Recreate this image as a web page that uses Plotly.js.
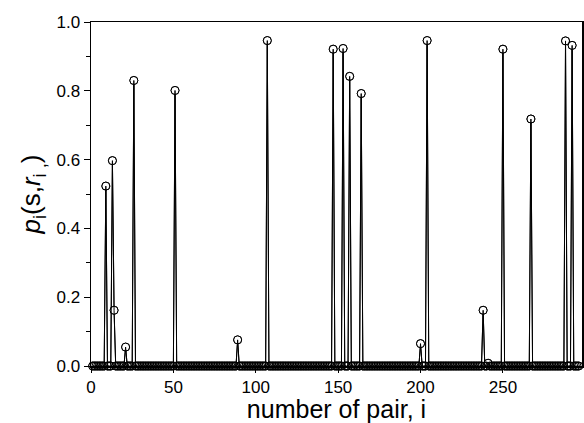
<!DOCTYPE html>
<html>
<head>
<meta charset="utf-8">
<script src="https://cdn.plot.ly/plotly-3.0.1.min.js"></script>
<style>html,body{margin:0;padding:0;background:#fff;}#chart{width:584px;height:423px;}</style>
</head>
<body>
<div id="chart"></div>
<script>
// number of pairs (i = 1 .. pairCount); all pairs not listed below read as 0
const pairCount = 296;
const spikePairs  = [9, 13, 14, 21, 26, 51, 89, 107, 147, 153, 157, 164, 200, 204, 238, 241, 250, 267, 288, 292];
const spikeValues = [0.523, 0.597, 0.162, 0.055, 0.830, 0.801, 0.076, 0.946, 0.921, 0.923, 0.842, 0.792, 0.065, 0.946, 0.162, 0.008, 0.921, 0.718, 0.945, 0.932];
const xTickVals = [0, 50, 100, 150, 200, 250];
const yTickVals = [0.0, 0.2, 0.4, 0.6, 0.8, 1.0];

const xs = [], ys = [];
for (let i = 1; i <= pairCount; i++) {
  xs.push(i);
  const k = spikePairs.indexOf(i);
  ys.push(k >= 0 ? spikeValues[k] : 0);
}

const trace = {
  x: xs, y: ys, type: 'scatter', mode: 'lines+markers',
  line: {color: '#000', width: 1},
  marker: {symbol: 'circle-open', size: 8, color: '#000', line: {width: 1, color: '#000'}},
  cliponaxis: false, hoverinfo: 'none'
};
const trace2 = {
  x: xs, y: ys, type: 'scatter', mode: 'markers',
  marker: {symbol: 'circle', size: 7, color: '#fff'},
  cliponaxis: false, hoverinfo: 'none'
};

const font = {family: 'Liberation Sans, Arial, sans-serif', color: '#000'};
const layout = {
  width: 584, height: 423,
  margin: {l: 91, r: 2, t: 22, b: 57},
  paper_bgcolor: '#fff', plot_bgcolor: '#fff',
  showlegend: false,
  font: font,
  xaxis: {
    range: [0, 298], tickvals: xTickVals, ticktext: xTickVals.map(String),
    showgrid: false, zeroline: false, showline: true, mirror: true,
    linecolor: '#000', linewidth: 1.5,
    ticks: 'outside', ticklen: 5, tickwidth: 1, tickcolor: '#000',
    tickfont: {family: font.family, size: 17, color: '#000'},
    title: {text: 'number of pair, i', font: {family: font.family, size: 25, color: '#000'}, standoff: 0}
  },
  yaxis: {
    range: [0, 1], tickvals: yTickVals, ticktext: yTickVals.map(v => v.toFixed(1)),
    showgrid: false, zeroline: false, showline: true, mirror: true,
    linecolor: '#000', linewidth: 1.5,
    ticks: 'outside', ticklen: 6, tickwidth: 1, tickcolor: '#000',
    minor: {dtick: 0.1, ticks: 'outside', ticklen: 4, tickcolor: '#000', showgrid: false},
    tickfont: {family: font.family, size: 17, color: '#000'},
    title: {text: '<i>p</i><sub>i</sub>(s,<i>r</i><sub>i ,</sub>)', font: {family: font.family, size: 26, color: '#000'}, standoff: 8}
  }
};
Plotly.newPlot('chart', [trace, trace2, trace], layout, {staticPlot: true, displayModeBar: false});
</script>
</body>
</html>
